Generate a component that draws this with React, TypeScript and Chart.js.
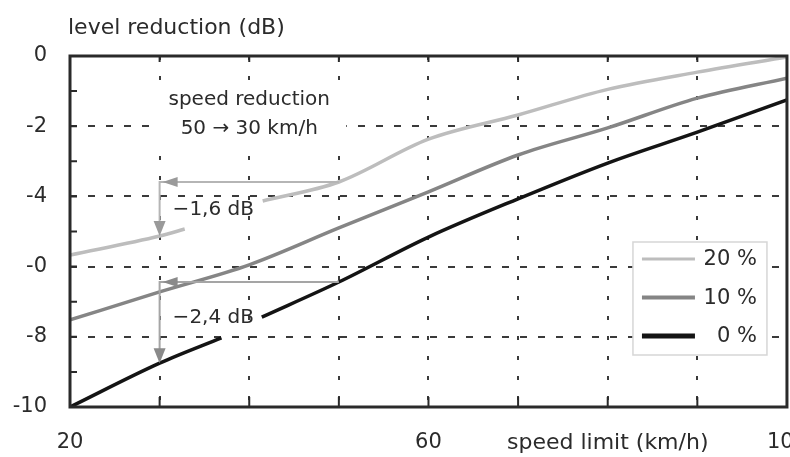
import React, { useEffect, useRef } from "react";
import { Chart, registerables } from "chart.js";

Chart.register(...registerables);

// ---------- data ----------
const seriesLabels = ["20 %", "10 %", "0 %"];
const seriesColors = ["#bdbdbd", "#858585", "#141414"];
const seriesWidths = [3.5, 3.5, 3.5];
const legendWidths = [3, 4, 5];

// 20 % heavy vehicles (line broken where the "−1,6 dB" label sits)
const speed20 = [20, 30, 32.8, 37, 41.5, 50, 60, 70, 80, 90, 100];
const level20 = [-5.67, -5.13, -4.93, null, -4.13, -3.59, -2.37, -1.68, -0.95, -0.46, -0.03];

// 10 %
const speed10 = [20, 30, 40, 50, 60, 70, 80, 90, 100];
const level10 = [-7.52, -6.72, -5.95, -4.9, -3.87, -2.82, -2.05, -1.2, -0.63];

// 0 % (line broken where the "−2,4 dB" label sits)
const speed0 = [20, 30, 36.9, 39, 41.4, 50, 60, 70, 80, 90, 100];
const level0 = [-10, -8.75, -8.03, null, -7.44, -6.44, -5.16, -4.07, -3.05, -2.17, -1.25];

// axis ticks
const xTickValues = [20, 60, 80, 100];
const xTickTexts = ["20", "60", "speed limit (km/h)", "100"];
const yTickValues = [0, -2, -4, -6, -8, -10];
const yTickTexts = ["0", "-2", "-4", "-0", "-8", "-10"];
const yTitle = "level reduction (dB)";

// annotation: speed reduction 50 -> 30 km/h
const annotationSpeeds = [50, 30];
const drop20 = [-3.59, -5.13];
const drop0 = [-6.44, -8.75];
const dropTexts = ["\u22121,6 dB", "\u22122,4 dB"];
const noteLines = ["speed reduction", "50 \u2192 30 km/h"];
const noteSpeed = 40;

// ---------- styles ----------
const FONT = '"DejaVu Sans", sans-serif';
const TEXT = "#2b2b2b";
const GRID = "#3a3a3a";
const FRAME = "#2a2a2a";
const CLEAR = "rgba(0,0,0,0)";

function toPoints(xs: number[], ys: (number | null)[]) {
  return xs.map((x, i) => ({ x, y: ys[i] }));
}

function drawArrow(
  ctx: CanvasRenderingContext2D,
  xs: any,
  ys: any,
  levels: number[],
  lineColor: string,
  headColor: string
) {
  const x1 = xs.getPixelForValue(annotationSpeeds[0]);
  const x0 = xs.getPixelForValue(annotationSpeeds[1]);
  const y1 = ys.getPixelForValue(levels[0]);
  const y2 = ys.getPixelForValue(levels[1]);
  ctx.save();
  ctx.strokeStyle = lineColor;
  ctx.lineWidth = 2;
  ctx.beginPath();
  ctx.moveTo(x1, y1);
  ctx.lineTo(x0, y1);
  ctx.lineTo(x0, y2 - 4);
  ctx.stroke();
  ctx.fillStyle = headColor;
  // left-pointing head
  ctx.beginPath();
  ctx.moveTo(x0 + 3, y1);
  ctx.lineTo(x0 + 18, y1 - 5);
  ctx.lineTo(x0 + 18, y1 + 5);
  ctx.closePath();
  ctx.fill();
  // down-pointing head
  ctx.beginPath();
  ctx.moveTo(x0, y2);
  ctx.lineTo(x0 - 6, y2 - 15);
  ctx.lineTo(x0 + 6, y2 - 15);
  ctx.closePath();
  ctx.fill();
  ctx.restore();
  return { x0, y1, y2 };
}

const overlay = {
  id: "overlay",
  beforeDatasetsDraw(chart: any) {
    const { ctx, chartArea: a, scales } = chart;
    const cx = scales.x.getPixelForValue(noteSpeed);
    ctx.save();
    ctx.fillStyle = "#ffffff";
    ctx.fillRect(cx - 97, a.top + 27, 194, 62);
    ctx.fillStyle = TEXT;
    ctx.font = `20px ${FONT}`;
    ctx.textAlign = "center";
    ctx.textBaseline = "middle";
    ctx.fillText(noteLines[0], cx, a.top + 44);
    ctx.fillText(noteLines[1], cx, a.top + 73);
    ctx.restore();
  },
  afterDatasetsDraw(chart: any) {
    const { ctx, chartArea: a, scales } = chart;
    const xs = scales.x;
    const ys = scales.y;

    // arrows + labels
    const r1 = drawArrow(ctx, xs, ys, drop20, "#b5b5b5", "#9a9a9a");
    const r2 = drawArrow(ctx, xs, ys, drop0, "#a5a5a5", "#8a8a8a");
    ctx.save();
    ctx.fillStyle = TEXT;
    ctx.font = `20px ${FONT}`;
    ctx.textAlign = "left";
    ctx.textBaseline = "middle";
    ctx.fillText(dropTexts[0], r1.x0 + 13, (r1.y1 + r1.y2) / 2 + 1);
    ctx.fillText(dropTexts[1], r2.x0 + 13, (r2.y1 + r2.y2) / 2 - 5);
    ctx.restore();

    // inner tick marks
    ctx.save();
    ctx.strokeStyle = FRAME;
    ctx.lineWidth = 2;
    ctx.beginPath();
    for (let v = -9; v <= -1; v++) {
      const py = ys.getPixelForValue(v);
      ctx.moveTo(a.left, py);
      ctx.lineTo(a.left + 7, py);
    }
    for (let v = 30; v <= 90; v += 10) {
      const px = xs.getPixelForValue(v);
      ctx.moveTo(px, a.bottom);
      ctx.lineTo(px, a.bottom - 10);
      ctx.moveTo(px, a.top);
      ctx.lineTo(px, a.top + 6);
    }
    ctx.stroke();

    // frame
    ctx.lineWidth = 3;
    ctx.strokeStyle = FRAME;
    ctx.strokeRect(a.left, a.top, a.right - a.left, a.bottom - a.top);
    ctx.restore();

    // legend
    const lx = a.right - 154;
    const ly = a.top + 186;
    ctx.save();
    ctx.fillStyle = "#ffffff";
    ctx.fillRect(lx, ly, 134, 113);
    ctx.strokeStyle = "#d6d6d6";
    ctx.lineWidth = 1.5;
    ctx.strokeRect(lx, ly, 134, 113);
    ctx.font = `21px ${FONT}`;
    ctx.textAlign = "right";
    ctx.textBaseline = "middle";
    seriesLabels.forEach((lab, i) => {
      const rowY = ly + 17 + i * 38.5;
      ctx.strokeStyle = seriesColors[i];
      ctx.lineWidth = legendWidths[i];
      ctx.beginPath();
      ctx.moveTo(lx + 9, rowY);
      ctx.lineTo(lx + 62, rowY);
      ctx.stroke();
      ctx.fillStyle = TEXT;
      ctx.fillText(lab, lx + 124, rowY + 1);
    });
    ctx.restore();

    // y-axis title
    ctx.save();
    ctx.fillStyle = TEXT;
    ctx.font = `22px ${FONT}`;
    ctx.textAlign = "left";
    ctx.textBaseline = "middle";
    ctx.fillText(yTitle, 68, 28);
    ctx.restore();
  },
};

export default function App() {
  const ref = useRef<HTMLCanvasElement | null>(null);

  useEffect(() => {
    if (!ref.current) return;
    const datasets = [
      toPoints(speed20, level20),
      toPoints(speed10, level10),
      toPoints(speed0, level0),
    ].map((data, i) => ({
      label: seriesLabels[i],
      data,
      borderColor: seriesColors[i],
      backgroundColor: seriesColors[i],
      borderWidth: seriesWidths[i],
      pointRadius: 0,
      fill: false,
      spanGaps: false,
      cubicInterpolationMode: "monotone" as const,
    }));

    const chart = new Chart(ref.current, {
      type: "line",
      data: { datasets: datasets as any },
      options: {
        animation: false,
        responsive: false,
        events: [],
        layout: { padding: { top: 56, right: 43, left: 0, bottom: 0 } },
        plugins: {
          legend: { display: false },
          tooltip: { enabled: false },
          title: { display: false },
        },
        scales: {
          x: {
            type: "linear",
            min: 20,
            max: 100,
            ticks: {
              stepSize: 10,
              autoSkip: false,
              maxRotation: 0,
              minRotation: 0,
              padding: 23,
              color: TEXT,
              font: (c: any) => ({
                family: FONT,
                size: c.tick && c.tick.value === 80 ? 22 : 21,
              }),
              callback: (v: any) => {
                const i = xTickValues.indexOf(Number(v));
                return i >= 0 ? xTickTexts[i] : "";
              },
            },
            grid: {
              color: (c: any) =>
                c.tick && (c.tick.value === 20 || c.tick.value === 100) ? CLEAR : GRID,
              lineWidth: 2,
              drawTicks: false,
            },
            border: { display: false, dash: [4, 16] },
            afterFit: (s: any) => {
              s.height = 50;
            },
          } as any,
          y: {
            type: "linear",
            min: -10,
            max: 0,
            ticks: {
              stepSize: 1,
              autoSkip: false,
              padding: 23,
              color: TEXT,
              font: { family: FONT, size: 21 },
              callback: (v: any) => {
                const i = yTickValues.indexOf(Number(v));
                return i >= 0 ? yTickTexts[i] : "";
              },
            },
            grid: {
              color: (c: any) => {
                const v = c.tick ? c.tick.value : 0;
                return Math.abs(v) % 2 === 1 || v === 0 || v === -10 ? CLEAR : GRID;
              },
              lineWidth: 2,
              drawTicks: false,
            },
            border: { display: false, dash: [7, 11] },
            afterFit: (s: any) => {
              s.width = 70;
            },
          } as any,
        },
      },
      plugins: [overlay],
    });
    return () => chart.destroy();
  }, []);

  return (
    <div
      style={{
        position: "fixed",
        left: 0,
        top: 0,
        width: 790,
        height: 457,
        overflow: "hidden",
        background: "#ffffff",
      }}
    >
      <canvas ref={ref} width={830} height={457} style={{ display: "block" }} />
    </div>
  );
}
